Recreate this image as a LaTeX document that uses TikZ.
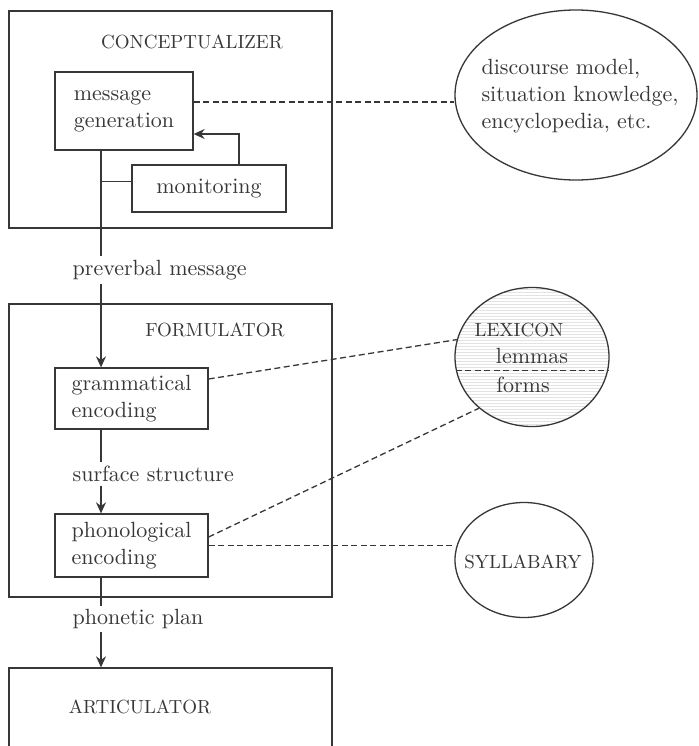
\documentclass[tikz,border=0pt]{standalone}
\usepackage{fontspec}
\setmainfont{lmroman10-regular.otf}
\usetikzlibrary{arrows.meta,shapes.geometric,patterns}
\definecolor{ink}{RGB}{55,55,55}
\begin{document}
\begin{tikzpicture}[x=1pt, y=-1pt,
    color=ink, line width=1.3pt,
    >={Stealth[length=11pt,width=10pt]},
    stage/.style={draw, minimum width=323pt},
    proc/.style={draw, align=left, font=\fontsize{22}{27}\selectfont},
    store/.style={draw, ellipse, inner sep=0pt},
    caps/.style={font=\fontsize{19}{21}\selectfont, inner sep=0pt},
    words/.style={align=left, font=\fontsize{22}{27}\selectfont, inner sep=0pt},
    flow/.style={font=\fontsize{22}{27}\selectfont, inner sep=3pt, anchor=west},
    link/.style={dash pattern=on 6pt off 3.5pt}
]
    \useasboundingbox[fill=white] (0,0) rectangle (698,746);
    \clip (0,0) rectangle (698,746);

    % Conceptualizer
    \node[stage, minimum height=217pt] (concep) at (170.5,119.5) {};
    \node[caps] (concepname) at (192,42) {CONCEPTUALIZER};
    \node[proc, minimum width=138pt, minimum height=78pt] (msggen) at (124,111) {message\\generation};
    \node[proc, minimum width=154pt, minimum height=47pt] (monitor) at (209,188.5) {monitoring};
    \node[store, minimum width=242pt, minimum height=170pt] (discourse) at (576,95) {};
    \node[words] (discoursetext) at (580,96.5) {discourse model,\\situation knowledge,\\encyclopedia, etc.};
    \coordinate (spine) at (101,0);

    % Formulator
    \node[stage, minimum height=293pt] (formul) at (170.5,450.5) {};
    \node[caps] (formulname) at (215,330) {FORMULATOR};
    \node[proc, minimum width=153pt, minimum height=61pt] (gramenc) at (131.5,398.5) {grammatical\\encoding};
    \node[proc, minimum width=153pt, minimum height=63pt] (phonenc) at (131.5,545.5) {phonological\\encoding};

    % Articulator, cut off at the bottom
    \node[stage, minimum height=92pt] (artic) at (170.5,714) {};
    \node[caps] (articname) at (140,707) {ARTICULATOR};

    % Lexicon and syllabary
    \node[store, pattern=horizontal lines, pattern color=gray!22, minimum width=154pt, minimum height=139pt] (lexicon) at (532,357) {};
    \node[caps] (lexname) at (519,330) {LEXICON};
    \node[words] (lemmas) at (532,356) {lemmas};
    \node[words] (forms) at (523,385) {forms};
    \draw[link] (lexicon.190) -- (lexicon.350);
    \node[store, minimum width=138pt, minimum height=115pt] (syllab) at (524,560) {};
    \node[caps] (syllabname) at (523,562) {SYLLABARY};

    % Labels on the flow
    \node[flow] (preverbal) at (69,270) {preverbal message};
    \node[flow] (surface) at (69,474) {surface structure};
    \node[flow] (phonetic) at (69,619) {phonetic plan};

    % Flow
    \draw (msggen.south -| spine) -- (preverbal.north -| spine);
    \draw[->] (preverbal.south -| spine) -- (gramenc.north -| spine);
    \draw ([yshift=7pt]monitor.west) -- ([yshift=7pt]monitor.west -| spine);
    \draw[->] ([xshift=30pt]monitor.north) |- ([yshift=-23pt]msggen.east);
    \draw (gramenc.south -| spine) -- (surface.north -| spine);
    \draw[->] (surface.south -| spine) -- (phonenc.north -| spine);
    \draw (phonenc.south -| spine) -- (phonetic.north -| spine);
    \draw[->] (phonetic.south -| spine) -- (artic.north -| spine);

    % Dashed links to the stores
    \draw[link] ([yshift=9pt]msggen.east) -- ([yshift=9pt]msggen.east -| discourse.west);
    \draw[link] ([yshift=19.5pt]gramenc.east) -- (lexicon.167);
    \draw[link] ([yshift=8.5pt]phonenc.east) -- (lexicon.224);
    \draw[link] (phonenc.east) -- (phonenc.east -| syllab.west);
\end{tikzpicture}
\end{document}
